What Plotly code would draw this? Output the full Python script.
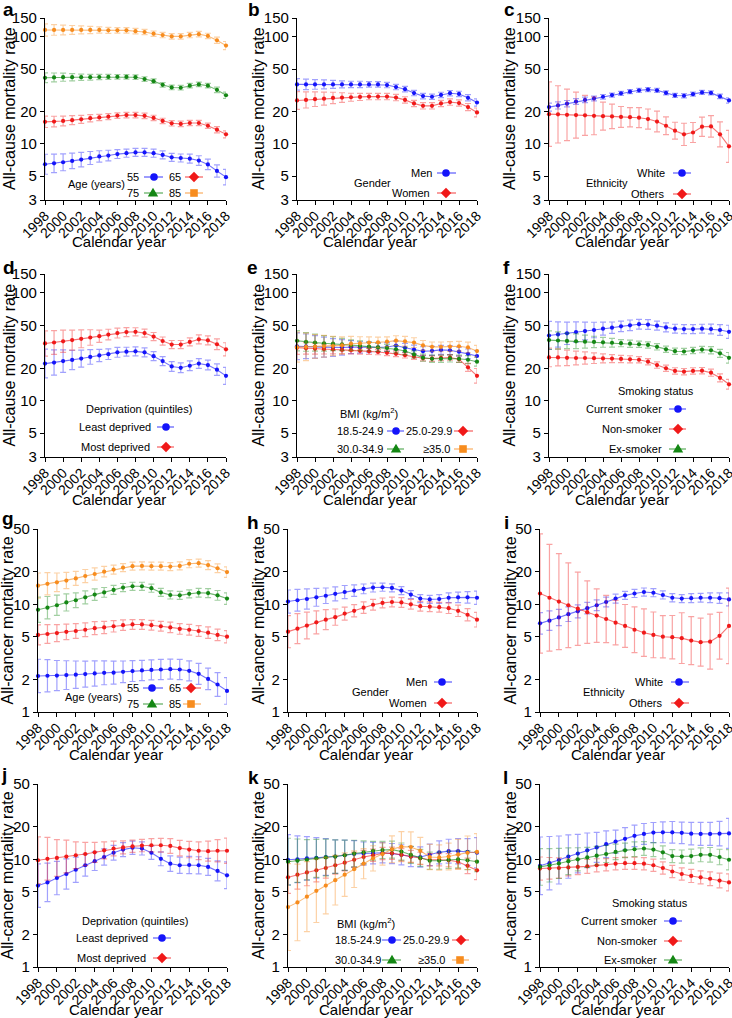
import math
import plotly.graph_objects as go

W, H = 732, 1018
YEARS = list(range(1998, 2019))
XTICKS = list(range(1998, 2019, 2))
YTICKS_ALL = [3, 5, 10, 20, 50, 100, 150]
YTICKS_CANCER = [1, 2, 5, 10, 20, 50]
YTITLE_ALL = "All-cause mortality rate"
YTITLE_CANCER = "All-cancer mortality rate"
XTITLE = "Calendar year"

# ---------------- data (rate, and multiplicative CI factor) ----------------
# a: all-cause by age
A_55 = [6.47, 6.6, 6.75, 6.95, 7.15, 7.4, 7.65, 7.8, 8.05, 8.2, 8.35, 8.35, 8.2, 7.9, 7.5, 7.4, 7.3, 7.0, 6.45, 5.6, 4.9]
A_55_CI = [1.24, 1.22, 1.20, 1.18, 1.17, 1.15, 1.13, 1.12, 1.10, 1.09, 1.09, 1.09, 1.09, 1.09, 1.09, 1.09, 1.10, 1.11, 1.12, 1.14, 1.18]
A_65 = [16.1, 16.2, 16.4, 16.7, 17.0, 17.4, 17.7, 18.0, 18.4, 18.6, 18.6, 18.3, 17.5, 16.4, 15.6, 15.4, 15.7, 15.7, 14.8, 13.6, 12.3]
A_65_CI = [1.13, 1.12, 1.11, 1.10, 1.09, 1.08, 1.07, 1.065, 1.06, 1.06, 1.06, 1.06, 1.06, 1.06, 1.06, 1.06, 1.06, 1.06, 1.06, 1.07, 1.08]
A_75 = [41.5, 41.8, 42, 42, 42, 42, 42.2, 42.3, 42.4, 42.3, 42, 40.4, 38.6, 35.7, 33.7, 33.5, 35, 36, 35, 32, 28.5]
A_75_CI = [1.11, 1.10, 1.09, 1.08, 1.07, 1.065, 1.06, 1.055, 1.05, 1.05, 1.05, 1.05, 1.05, 1.05, 1.05, 1.05, 1.05, 1.05, 1.05, 1.06, 1.07]
A_85 = [116, 116, 116, 116, 116, 116, 116, 115, 115, 115, 113, 111, 107, 104, 101, 101, 104, 106, 102, 93, 83]
A_85_CI = [1.14, 1.12, 1.11, 1.10, 1.09, 1.08, 1.07, 1.065, 1.06, 1.06, 1.06, 1.06, 1.06, 1.06, 1.06, 1.06, 1.06, 1.06, 1.06, 1.07, 1.09]

# b: all-cause by gender
B_MEN = [36, 36, 36, 36, 36, 36, 36, 36, 36, 36, 35.5, 34, 32.5, 29.9, 28, 27.6, 28.7, 29.8, 29.3, 27, 24.4]
B_MEN_CI = [1.13, 1.12, 1.11, 1.10, 1.09, 1.08, 1.07, 1.07, 1.06, 1.06, 1.06, 1.06, 1.06, 1.06, 1.06, 1.06, 1.06, 1.06, 1.06, 1.07, 1.08]
B_WOMEN = [25.5, 25.8, 26.2, 26.5, 26.9, 27.1, 27.3, 27.5, 27.7, 27.7, 27.7, 27.1, 25.8, 23.9, 22.7, 22.7, 23.9, 24.6, 24.1, 22.1, 19.7]
B_WOMEN_CI = [1.21, 1.19, 1.17, 1.15, 1.13, 1.11, 1.09, 1.08, 1.07, 1.07, 1.07, 1.07, 1.07, 1.07, 1.07, 1.07, 1.07, 1.07, 1.07, 1.08, 1.10]

# c: all-cause by ethnicity
C_WHITE = [22.1, 22.9, 23.8, 24.9, 25.8, 26.6, 27.6, 28.6, 29.7, 30.8, 31.7, 32.2, 31.7, 30, 28.4, 28.2, 29.2, 30.3, 30, 27.8, 25.5]
C_WHITE_CI = [1.09, 1.08, 1.07, 1.065, 1.06, 1.055, 1.05, 1.045, 1.045, 1.045, 1.045, 1.045, 1.045, 1.045, 1.045, 1.045, 1.045, 1.045, 1.045, 1.05, 1.06]
C_OTHERS = [19, 18.9, 18.7, 18.6, 18.5, 18.3, 18.2, 18.1, 17.9, 17.8, 17.6, 17.1, 16.2, 14.8, 13.3, 12.3, 12.8, 14.5, 14.6, 12.3, 9.5]
C_OTHERS_CI = [2.0, 1.85, 1.74, 1.64, 1.54, 1.5, 1.35, 1.3, 1.25, 1.23, 1.24, 1.24, 1.25, 1.21, 1.2, 1.27, 1.24, 1.23, 1.26, 1.31, 1.41]

# d: all-cause by deprivation
D_LEAST = [22.1, 22.6, 23.3, 23.9, 24.6, 25.5, 26.3, 27, 28.1, 28.5, 28.7, 28.1, 25.9, 23.3, 20.8, 20.2, 21.1, 22.1, 21.4, 19.4, 17]
D_LEAST_CI = [1.36, 1.31, 1.27, 1.23, 1.20, 1.17, 1.14, 1.12, 1.11, 1.10, 1.10, 1.10, 1.10, 1.10, 1.11, 1.11, 1.11, 1.11, 1.11, 1.13, 1.20]
D_MOST = [34, 34.7, 35.6, 36.5, 37.5, 38.6, 39.7, 41.1, 42.4, 43.3, 43.6, 42.4, 39.4, 35.8, 33.2, 33.2, 35.1, 37.1, 36.3, 33.4, 30]
D_MOST_CI = [1.31, 1.29, 1.27, 1.24, 1.21, 1.18, 1.14, 1.12, 1.11, 1.10, 1.09, 1.09, 1.09, 1.09, 1.09, 1.09, 1.09, 1.10, 1.10, 1.12, 1.15]

# e: all-cause by BMI
E_BMI_18 = [32, 32, 31.6, 31.4, 31.2, 31.2, 31.4, 31.2, 31.2, 31.3, 31.5, 32.5, 31, 29.8, 28.8, 29, 29.6, 29.4, 28.5, 27.2, 26]
E_BMI_18_CI = [1.33, 1.30, 1.27, 1.24, 1.21, 1.18, 1.15, 1.13, 1.12, 1.10, 1.10, 1.10, 1.10, 1.10, 1.10, 1.10, 1.10, 1.10, 1.10, 1.11, 1.12]
E_BMI_25 = [31, 30.6, 30.3, 30.1, 29.9, 29.6, 29.4, 29.0, 28.7, 28.3, 27.8, 27.2, 26.4, 25.6, 24.8, 24.6, 25, 25.2, 24.3, 20.4, 17]
E_BMI_25_CI = [1.15, 1.13, 1.12, 1.11, 1.10, 1.09, 1.08, 1.07, 1.07, 1.06, 1.06, 1.06, 1.06, 1.06, 1.06, 1.06, 1.06, 1.06, 1.07, 1.09, 1.17]
E_BMI_30 = [36, 35.1, 34.6, 34.1, 33.8, 33.3, 32.8, 32.3, 31.8, 31.3, 30.9, 30, 28.9, 26.9, 25.1, 24.5, 24.5, 24.7, 24.5, 24, 23]
E_BMI_30_CI = [1.24, 1.22, 1.20, 1.18, 1.16, 1.14, 1.12, 1.11, 1.10, 1.09, 1.08, 1.08, 1.08, 1.08, 1.08, 1.08, 1.08, 1.08, 1.08, 1.09, 1.10]
E_BMI_35 = [31.4, 31.6, 31.8, 32, 32.2, 32.6, 33.8, 34.1, 34.6, 34.8, 35.3, 36.1, 35.6, 34.6, 32.6, 31.6, 31.6, 31.8, 32, 31.2, 28.9]
E_BMI_35_CI = [1.38, 1.34, 1.29, 1.26, 1.23, 1.20, 1.17, 1.15, 1.13, 1.12, 1.11, 1.11, 1.11, 1.11, 1.11, 1.11, 1.11, 1.11, 1.11, 1.12, 1.13]

# f: all-cause by smoking
F_CURRENT = [40.3, 41.2, 42.2, 43.4, 44.3, 45.3, 46.6, 47.6, 49, 50.1, 51.3, 50.9, 49.7, 47.9, 46.6, 46.2, 46.2, 46.6, 46.2, 45.3, 43.6]
F_CURRENT_CI = [1.35, 1.31, 1.27, 1.24, 1.21, 1.18, 1.15, 1.13, 1.12, 1.12, 1.11, 1.11, 1.10, 1.10, 1.10, 1.10, 1.10, 1.10, 1.11, 1.12, 1.15]
F_NON = [25.2, 25.2, 25.0, 24.9, 24.9, 24.8, 24.7, 24.6, 24.4, 24.2, 24, 23, 21.4, 20, 18.9, 18.6, 18.9, 19, 18.2, 16.3, 14.2]
F_NON_CI = [1.22, 1.20, 1.18, 1.16, 1.14, 1.12, 1.10, 1.09, 1.08, 1.08, 1.07, 1.07, 1.07, 1.07, 1.07, 1.07, 1.07, 1.07, 1.08, 1.09, 1.11]
F_EX = [36.5, 36.2, 35.9, 35.6, 35.3, 35.1, 34.8, 34.5, 34.2, 33.8, 33.4, 32.9, 31.6, 30, 28.8, 28.6, 29.2, 29.8, 29.4, 27.5, 25]
F_EX_CI = [1.22, 1.20, 1.18, 1.17, 1.15, 1.13, 1.11, 1.10, 1.08, 1.08, 1.07, 1.07, 1.07, 1.07, 1.07, 1.07, 1.07, 1.07, 1.08, 1.09, 1.12]

# g: all-cancer by age
G_55 = [2.16, 2.17, 2.18, 2.2, 2.22, 2.25, 2.28, 2.31, 2.32, 2.36, 2.4, 2.43, 2.46, 2.48, 2.5, 2.48, 2.41, 2.26, 2.03, 1.8, 1.57]
G_55_CI = [1.43, 1.41, 1.38, 1.36, 1.34, 1.32, 1.31, 1.29, 1.28, 1.26, 1.25, 1.24, 1.24, 1.24, 1.24, 1.24, 1.24, 1.25, 1.26, 1.29, 1.33]
G_65 = [5.2, 5.3, 5.4, 5.55, 5.65, 5.8, 6.0, 6.1, 6.25, 6.4, 6.5, 6.5, 6.4, 6.25, 6.1, 5.9, 5.8, 5.65, 5.45, 5.2, 5.0]
G_65_CI = [1.24, 1.22, 1.20, 1.18, 1.17, 1.16, 1.15, 1.14, 1.13, 1.12, 1.11, 1.11, 1.11, 1.11, 1.12, 1.12, 1.12, 1.12, 1.13, 1.13, 1.14]
G_75 = [8.9, 9.3, 9.8, 10.4, 10.9, 11.6, 12.3, 12.9, 13.6, 14.3, 14.7, 14.7, 14.1, 12.9, 12.2, 12.1, 12.5, 12.8, 12.7, 12.1, 11.3]
G_75_CI = [1.31, 1.27, 1.24, 1.20, 1.17, 1.15, 1.13, 1.11, 1.10, 1.09, 1.09, 1.09, 1.09, 1.09, 1.09, 1.09, 1.09, 1.10, 1.10, 1.11, 1.13]
G_85 = [14.9, 15.5, 16.0, 16.6, 17.4, 18.3, 19.1, 20.1, 21.0, 21.9, 22.6, 22.7, 22.6, 22.6, 22.4, 22.7, 23.8, 24.1, 23.1, 21.6, 19.9]
G_85_CI = [1.31, 1.27, 1.22, 1.19, 1.16, 1.15, 1.14, 1.12, 1.10, 1.09, 1.09, 1.09, 1.09, 1.09, 1.09, 1.09, 1.09, 1.09, 1.10, 1.10, 1.12]

# h: all-cancer by gender
H_MEN = [10.6, 10.9, 11.2, 11.6, 12.0, 12.5, 13.0, 13.4, 13.9, 14.3, 14.4, 14.2, 13.4, 12.3, 11.3, 11.1, 11.2, 11.5, 11.6, 11.6, 11.5]
H_MEN_CI = [1.28, 1.26, 1.24, 1.21, 1.18, 1.16, 1.15, 1.13, 1.11, 1.10, 1.09, 1.09, 1.09, 1.09, 1.09, 1.09, 1.10, 1.11, 1.12, 1.13, 1.15]
H_WOMEN = [5.57, 5.94, 6.35, 6.8, 7.2, 7.6, 8.2, 8.7, 9.3, 9.9, 10.3, 10.5, 10.4, 10.0, 9.6, 9.5, 9.4, 9.2, 8.7, 8.0, 7.2]
H_WOMEN_CI = [1.41, 1.38, 1.33, 1.28, 1.24, 1.19, 1.15, 1.14, 1.13, 1.12, 1.11, 1.11, 1.11, 1.11, 1.11, 1.11, 1.11, 1.12, 1.13, 1.14, 1.17]

# i: all-cancer by ethnicity
I_WHITE = [6.65, 7.05, 7.55, 8.1, 8.6, 9.2, 9.8, 10.5, 11.3, 12.1, 12.6, 13.0, 12.8, 12.2, 11.5, 11.3, 11.4, 11.5, 11.5, 11.4, 11.1]
I_WHITE_CI = [1.26, 1.23, 1.19, 1.17, 1.15, 1.13, 1.12, 1.11, 1.10, 1.09, 1.09, 1.09, 1.09, 1.09, 1.09, 1.09, 1.10, 1.10, 1.11, 1.12, 1.15]
I_OTHERS = [12.6, 11.5, 10.6, 9.8, 9.1, 8.45, 7.85, 7.3, 6.75, 6.3, 5.8, 5.45, 5.2, 5.0, 4.95, 4.85, 4.6, 4.45, 4.5, 5.1, 6.3]
I_OTHERS_CI = [3.58, 3.13, 2.79, 2.47, 2.19, 1.95, 1.77, 1.66, 1.61, 1.58, 1.63, 1.66, 1.63, 1.57, 1.59, 1.72, 1.67, 1.67, 1.8, 1.65, 2.24]

# j: all-cancer by deprivation
J_LEAST = [5.7, 6.1, 6.7, 7.3, 8.0, 8.8, 9.6, 10.5, 11.5, 12.3, 12.8, 12.6, 11.5, 10.1, 9.1, 8.8, 8.85, 8.8, 8.5, 7.8, 7.1]
J_LEAST_CI = [1.59, 1.51, 1.43, 1.38, 1.31, 1.26, 1.22, 1.19, 1.17, 1.16, 1.15, 1.15, 1.15, 1.16, 1.18, 1.19, 1.2, 1.2, 1.2, 1.24, 1.33]
J_MOST = [9.8, 10.1, 10.3, 10.6, 10.9, 11.2, 11.6, 12.1, 12.6, 12.9, 13.2, 13.4, 13.5, 13.5, 13.3, 12.7, 12.3, 12.0, 11.9, 12.0, 12.0]
J_MOST_CI = [1.65, 1.58, 1.48, 1.42, 1.33, 1.28, 1.24, 1.20, 1.17, 1.15, 1.14, 1.14, 1.15, 1.16, 1.17, 1.18, 1.19, 1.21, 1.24, 1.27, 1.31]

# k: all-cancer by BMI
K_BMI_18 = [9.9, 10.0, 10.2, 10.3, 10.5, 10.6, 10.9, 11.2, 11.3, 11.4, 11.5, 11.3, 11.0, 10.6, 10.5, 11.0, 11.6, 11.9, 11.9, 11.7, 11.5]
K_BMI_18_CI = [1.71, 1.65, 1.59, 1.54, 1.48, 1.43, 1.38, 1.33, 1.28, 1.26, 1.24, 1.24, 1.24, 1.24, 1.24, 1.26, 1.28, 1.29, 1.31, 1.33, 1.38]
K_BMI_25 = [6.8, 7.2, 7.55, 7.9, 8.3, 8.8, 9.3, 9.9, 10.5, 10.9, 11.3, 11.4, 11.0, 10.6, 10.2, 9.9, 9.9, 9.8, 9.5, 8.7, 7.9]
K_BMI_25_CI = [1.41, 1.36, 1.33, 1.28, 1.24, 1.21, 1.19, 1.17, 1.15, 1.14, 1.14, 1.14, 1.14, 1.14, 1.14, 1.14, 1.14, 1.15, 1.16, 1.18, 1.22]
K_BMI_30 = [9.5, 9.7, 9.9, 10.2, 10.4, 10.6, 10.9, 11.3, 11.6, 12.0, 12.2, 12.3, 11.8, 11.0, 10.3, 9.7, 9.7, 9.9, 10.0, 9.8, 9.5]
K_BMI_30_CI = [1.65, 1.59, 1.54, 1.5, 1.48, 1.43, 1.38, 1.33, 1.28, 1.22, 1.2, 1.2, 1.2, 1.2, 1.2, 1.2, 1.2, 1.2, 1.2, 1.22, 1.24]
K_BMI_35 = [3.6, 3.98, 4.5, 5.1, 5.7, 6.4, 7.2, 8.1, 9.1, 10.2, 11.2, 12.4, 13.1, 13.0, 12.0, 10.5, 10.4, 10.6, 11.1, 11.5, 11.7]
K_BMI_35_CI = [2.53, 2.27, 2.11, 1.97, 1.83, 1.7, 1.59, 1.48, 1.38, 1.31, 1.27, 1.33, 1.38, 1.38, 1.33, 1.31, 1.31, 1.33, 1.38, 1.43, 1.48]

# l: all-cancer by smoking
L_CURRENT = [8.7, 9.2, 9.85, 10.6, 11.3, 12.1, 12.9, 13.8, 14.6, 15.5, 16.5, 17.2, 17.7, 17.8, 17.8, 17.6, 17.3, 17.2, 17.2, 17.3, 17.4]
L_CURRENT_CI = [1.85, 1.77, 1.67, 1.59, 1.51, 1.45, 1.38, 1.33, 1.28, 1.27, 1.26, 1.25, 1.24, 1.25, 1.26, 1.26, 1.27, 1.28, 1.28, 1.3, 1.38]
L_NON = [8.2, 8.25, 8.3, 8.4, 8.5, 8.6, 8.8, 8.9, 9.1, 9.2, 9.2, 9.1, 8.8, 8.3, 7.7, 7.3, 7.0, 6.8, 6.6, 6.35, 6.1]
L_NON_CI = [1.28, 1.26, 1.24, 1.2, 1.18, 1.16, 1.15, 1.14, 1.14, 1.14, 1.14, 1.14, 1.14, 1.14, 1.14, 1.14, 1.15, 1.15, 1.16, 1.17, 1.2]
L_EX = [8.5, 8.8, 9.15, 9.6, 10.0, 10.4, 10.8, 11.2, 11.7, 12.1, 12.4, 12.6, 12.3, 11.6, 10.7, 10.6, 10.7, 11.0, 11.0, 10.5, 9.9]
L_EX_CI = [1.48, 1.43, 1.38, 1.33, 1.28, 1.24, 1.22, 1.2, 1.18, 1.17, 1.17, 1.16, 1.16, 1.15, 1.15, 1.15, 1.16, 1.16, 1.17, 1.18, 1.24]

# ---------------- styling ----------------
COL = {
    "blue": (20, 20, 250),
    "red": (240, 25, 25),
    "green": (20, 135, 20),
    "orange": (247, 140, 30),
}
FONT = "Arial, 'Liberation Sans', Helvetica, sans-serif"


def rgba(c, a):
    return f"rgba({c[0]},{c[1]},{c[2]},{a})"


def X(px):
    return px / W


def Y(py):
    return 1 - py / H


# panel layout: letter (x, baseline), plot box (x0, x1, y0, y1) in pixels, y-title x, series, legend
PANELS = [
    dict(letter=("a", 2, 15), box=(45, 226, 18, 200), ytx=9, kind="all",
         series=[(A_55, A_55_CI, "blue"), (A_65, A_65_CI, "red"), (A_75, A_75_CI, "green"), (A_85, A_85_CI, "orange")],
         titles=[("Age (years)", 66, 184)],
         items=[("55", "r", 141, 177, 144, 163, 154, "blue", "circle"),
                ("65", "r", 183, 177, 185, 203, 194, "red", "diamond"),
                ("75", "r", 141, 193, 144, 163, 153, "green", "triangle"),
                ("85", "r", 183, 193, 185, 203, 194, "orange", "square")]),
    dict(letter=("b", 247, 14), box=(297, 477, 18, 200), ytx=258, kind="all",
         series=[(B_MEN, B_MEN_CI, "blue"), (B_WOMEN, B_WOMEN_CI, "red")],
         titles=[("Gender", 352, 183)],
         items=[("Men", "r", 434, 173, 437, 456, 446, "blue", "circle"),
                ("Women", "r", 432, 193, 437, 456, 446, "red", "diamond")]),
    dict(letter=("c", 503, 14), box=(549, 729, 18, 200), ytx=509, kind="all",
         series=[(C_WHITE, C_WHITE_CI, "blue"), (C_OTHERS, C_OTHERS_CI, "red")],
         titles=[("Ethnicity", 584, 183)],
         items=[("White", "r", 667, 173, 673, 691, 682, "blue", "circle"),
                ("Others", "r", 667, 194, 673, 691, 682, "red", "diamond")]),
    dict(letter=("d", 2, 273), box=(45, 226, 274, 457), ytx=9, kind="all",
         series=[(D_LEAST, D_LEAST_CI, "blue"), (D_MOST, D_MOST_CI, "red")],
         titles=[("Deprivation (quintiles)", 84, 409)],
         items=[("Least deprived", "r", 153, 427, 157, 174, 166, "blue", "circle"),
                ("Most deprived", "r", 152, 447, 157, 174, 166, "red", "diamond")]),
    dict(letter=("e", 246, 273), box=(297, 477, 274, 457), ytx=258, kind="all",
         series=[(E_BMI_18, E_BMI_18_CI, "blue"), (E_BMI_25, E_BMI_25_CI, "red"),
                 (E_BMI_30, E_BMI_30_CI, "green"), (E_BMI_35, E_BMI_35_CI, "orange")],
         titles=[("BMI (kg/m<sup>2</sup>)", 338, 413)],
         items=[("18.5-24.9", "l", 335, 431, 387, 404, 396, "blue", "circle"),
                ("25.0-29.9", "l", 404, 431, 454, 473, 463, "red", "diamond"),
                ("30.0-34.9", "l", 335, 449, 387, 404, 396, "green", "triangle"),
                ("≥35.0", "r", 452, 449, 454, 473, 463, "orange", "square")]),
    dict(letter=("f", 502, 273), box=(549, 729, 274, 457), ytx=509, kind="all",
         series=[(F_CURRENT, F_CURRENT_CI, "blue"), (F_NON, F_NON_CI, "red"), (F_EX, F_EX_CI, "green")],
         titles=[("Smoking status", 616, 391)],
         items=[("Current smoker", "r", 664, 409, 669, 686, 678, "blue", "circle"),
                ("Non-smoker", "r", 664, 429, 669, 686, 678, "red", "diamond"),
                ("Ex-smoker", "r", 664, 449, 669, 686, 678, "green", "triangle")]),
    dict(letter=("g", 1, 524), box=(38, 227, 529, 712), ytx=7, kind="cancer",
         series=[(G_55, G_55_CI, "blue"), (G_65, G_65_CI, "red"), (G_75, G_75_CI, "green"), (G_85, G_85_CI, "orange")],
         titles=[("Age (years)", 63, 697)],
         items=[("55", "r", 141, 688, 143, 163, 152, "blue", "circle"),
                ("65", "r", 183, 688, 183, 201, 191, "red", "diamond"),
                ("75", "r", 141, 704, 143, 163, 152, "green", "triangle"),
                ("85", "r", 183, 704, 183, 201, 191, "orange", "square")]),
    dict(letter=("h", 246, 528), box=(288, 477, 529, 712), ytx=258, kind="cancer",
         series=[(H_MEN, H_MEN_CI, "blue"), (H_WOMEN, H_WOMEN_CI, "red")],
         titles=[("Gender", 350, 692)],
         items=[("Men", "r", 429, 682, 434, 452, 442, "blue", "circle"),
                ("Women", "r", 429, 703, 434, 452, 442, "red", "diamond")]),
    dict(letter=("i", 503, 528), box=(540, 729, 529, 712), ytx=510, kind="cancer",
         series=[(I_WHITE, I_WHITE_CI, "blue"), (I_OTHERS, I_OTHERS_CI, "red")],
         titles=[("Ethnicity", 581, 692)],
         items=[("White", "r", 665, 682, 671, 689, 679, "blue", "circle"),
                ("Others", "r", 665, 703, 671, 689, 679, "red", "diamond")]),
    dict(letter=("j", 0, 780), box=(38, 227, 784, 967), ytx=7, kind="cancer",
         series=[(J_LEAST, J_LEAST_CI, "blue"), (J_MOST, J_MOST_CI, "red")],
         titles=[("Deprivation (quintiles)", 80, 921)],
         items=[("Least deprived", "r", 150, 938, 153, 171, 162, "blue", "circle"),
                ("Most deprived", "r", 148, 958, 153, 171, 162, "red", "diamond")]),
    dict(letter=("k", 247, 783), box=(288, 477, 784, 967), ytx=258, kind="cancer",
         series=[(K_BMI_18, K_BMI_18_CI, "blue"), (K_BMI_25, K_BMI_25_CI, "red"),
                 (K_BMI_30, K_BMI_30_CI, "green"), (K_BMI_35, K_BMI_35_CI, "orange")],
         titles=[("BMI (kg/m<sup>2</sup>)", 335, 923)],
         items=[("18.5-24.9", "l", 333, 940, 382, 401, 392, "blue", "circle"),
                ("25.0-29.9", "l", 401, 940, 452, 469, 461, "red", "diamond"),
                ("30.0-34.9", "l", 333, 960, 382, 401, 392, "green", "triangle"),
                ("≥35.0", "r", 447, 960, 452, 469, 460, "orange", "square")]),
    dict(letter=("l", 502, 783), box=(540, 729, 784, 967), ytx=510, kind="cancer",
         series=[(L_CURRENT, L_CURRENT_CI, "blue"), (L_NON, L_NON_CI, "red"), (L_EX, L_EX_CI, "green")],
         titles=[("Smoking status", 610, 903)],
         items=[("Current smoker", "r", 659, 921, 664, 682, 673, "blue", "circle"),
                ("Non-smoker", "r", 659, 941, 664, 682, 673, "red", "diamond"),
                ("Ex-smoker", "r", 659, 960, 664, 682, 673, "green", "triangle")]),
]

fig = go.Figure()
layout = dict(
    width=W, height=H, margin=dict(l=0, r=0, t=0, b=0, pad=0, autoexpand=False),
    paper_bgcolor="white", plot_bgcolor="white", showlegend=False,
    font=dict(family=FONT, color="black", size=14),
)
annotations = []
shapes = []


def symbol_shape(kind, cx, cy, color):
    fill = rgba(COL[color], 1)
    if kind == "circle":
        r = 3.8
        return dict(type="circle", xref="paper", yref="paper",
                    x0=X(cx - r), x1=X(cx + r), y0=Y(cy + r), y1=Y(cy - r),
                    fillcolor=fill, line=dict(width=0))
    if kind == "square":
        r = 3.8
        return dict(type="rect", xref="paper", yref="paper",
                    x0=X(cx - r), x1=X(cx + r), y0=Y(cy + r), y1=Y(cy - r),
                    fillcolor=fill, line=dict(width=0))
    if kind == "diamond":
        r = 5.2
        pts = [(cx, cy - r), (cx + r, cy), (cx, cy + r), (cx - r, cy)]
    else:  # triangle
        pts = [(cx, cy - 5.2), (cx + 5.2, cy + 3.6), (cx - 5.2, cy + 3.6)]
    path = "M " + " L ".join(f"{X(px):.6f},{Y(py):.6f}" for px, py in pts) + " Z"
    return dict(type="path", xref="paper", yref="paper", path=path,
                fillcolor=fill, line=dict(width=0))


for i, p in enumerate(PANELS, start=1):
    xa = "xaxis" if i == 1 else f"xaxis{i}"
    ya = "yaxis" if i == 1 else f"yaxis{i}"
    xr = "x" if i == 1 else f"x{i}"
    yr = "y" if i == 1 else f"y{i}"
    x0, x1, y0, y1 = p["box"]
    if p["kind"] == "all":
        yt, ytitle = YTICKS_ALL, YTITLE_ALL
    else:
        yt, ytitle = YTICKS_CANCER, YTITLE_CANCER

    layout[xa] = dict(
        domain=[X(x0), X(x1)], anchor=yr, range=[YEARS[0], YEARS[-1]], automargin=False,
        tickmode="array", tickvals=XTICKS, ticktext=[str(v) for v in XTICKS],
        tickangle=-45, ticks="outside", ticklen=4, tickwidth=1.2, tickcolor="black",
        ticklabelstandoff=-3, ticklabeloverflow="allow",
        showline=True, linecolor="black", linewidth=1.3, showgrid=False, zeroline=False,
        tickfont=dict(size=14, family=FONT, color="black"),
    )
    layout[ya] = dict(
        domain=[Y(y1), Y(y0)], anchor=xr, type="log", automargin=False,
        range=[math.log10(yt[0]), math.log10(yt[-1])],
        tickmode="array", tickvals=yt, ticktext=[str(v) for v in yt],
        ticks="outside", ticklen=4, tickwidth=1.2, tickcolor="black",
        ticklabeloverflow="allow",
        showline=True, linecolor="black", linewidth=1.3, showgrid=False, zeroline=False,
        tickfont=dict(size=15, family=FONT, color="black"),
    )

    for vals, ci, cname in p["series"]:
        c = COL[cname]
        up = [v * f - v for v, f in zip(vals, ci)]
        dn = [v - v / f for v, f in zip(vals, ci)]
        fig.add_trace(go.Scatter(
            x=YEARS, y=vals, xaxis=xr, yaxis=yr, mode="lines+markers",
            line=dict(color=rgba(c, 0.6), width=1.1),
            marker=dict(color=rgba(c, 1), size=4.2, symbol="circle"),
            error_y=dict(type="data", symmetric=False, array=up, arrayminus=dn,
                         color=rgba(c, 0.4), thickness=1.2, width=3),
            cliponaxis=False, hoverinfo="x+y",
        ))

    # axis titles
    annotations.append(dict(
        text=ytitle, x=X(p["ytx"]), y=Y((y0 + y1) / 2), xref="paper", yref="paper", textangle=-90,
        showarrow=False, xanchor="center", yanchor="middle",
        font=dict(size=16, family=FONT, color="black")))
    annotations.append(dict(
        text=XTITLE, x=X((x0 + x1) / 2 - 17), y=Y(y1 + 42), xref="paper", yref="paper",
        showarrow=False, xanchor="center", yanchor="middle",
        font=dict(size=15, family=FONT, color="black")))
    # panel letter
    lt, lx, lb = p["letter"]
    annotations.append(dict(
        text=f"<b>{lt}</b>", x=X(lx), y=Y(max(lb - 5.5, 10)), xref="paper", yref="paper",
        showarrow=False, xanchor="left", yanchor="middle", borderpad=0,
        font=dict(size=19, family=FONT, color="black")))

    # legend
    for text, tx, ty in p["titles"]:
        annotations.append(dict(
            text=text, x=X(tx), y=Y(ty), xref="paper", yref="paper", showarrow=False,
            xanchor="left", yanchor="middle", font=dict(size=11, family=FONT, color="black")))
    for text, anc, tx, ty, lx0, lx1, sx, cname, sym in p["items"]:
        annotations.append(dict(
            text=text, x=X(tx), y=Y(ty), xref="paper", yref="paper", showarrow=False,
            xanchor="right" if anc == "r" else "left", yanchor="middle",
            font=dict(size=11, family=FONT, color="black")))
        shapes.append(dict(type="line", xref="paper", yref="paper",
                           x0=X(lx0), x1=X(lx1), y0=Y(ty), y1=Y(ty),
                           line=dict(color=rgba(COL[cname], 0.7), width=1.2)))
        shapes.append(symbol_shape(sym, sx, ty, cname))

layout["annotations"] = annotations
layout["shapes"] = shapes
fig.update_layout(**layout)
fig.write_html("out.html", config={"displayModeBar": False},
               post_script="document.body.style.margin='0px';")
